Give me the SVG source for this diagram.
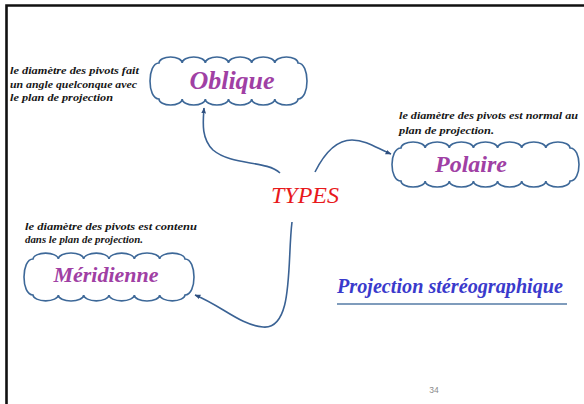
<svg xmlns="http://www.w3.org/2000/svg" width="584" height="404" viewBox="0 0 584 404">
<defs>
<style>
.cloud{fill:#fff;stroke:#3d6898;stroke-width:1.6}
.conn{fill:none;stroke:#3a6294;stroke-width:1.6}
.serif{font-family:"Liberation Serif","Times New Roman",serif}
.desc{font-weight:bold;font-style:italic;font-size:10.5px;fill:#161616}
.name{font-weight:bold;font-style:italic;fill:#a040a4}
</style>
<marker id="arr" viewBox="0 0 10 10" refX="9" refY="5" markerWidth="6" markerHeight="6" orient="auto" markerUnits="userSpaceOnUse">
<path d="M0,1 L10,5 L0,9 Z" fill="#2f4f7f"/>
</marker>
</defs>
<rect width="584" height="404" fill="#fff"/>
<path d="M6.5,404 V5.5 H584" fill="none" stroke="#111" stroke-width="2.6"/>

<g id="connectors">
<path class="conn" marker-end="url(#arr)" d="M280,173 C266,160 232,166 213,150 C201,138 203,122 204,108"/>
<path class="conn" marker-end="url(#arr)" d="M315,172 C325,152 338,140 352,140 C367,140 378,149 391,154"/>
<path class="conn" marker-end="url(#arr)" d="M292,222 C287,262 294,330 263,327 C240,325 222,306 195,295"/>
</g>

<g id="oblique">
<path class="cloud" d="M159,63 A11.58,6 0 0 1 182.17,63 A11.58,6 0 0 1 205.33,63 A11.58,6 0 0 1 228.5,63 A11.58,6 0 0 1 251.67,63 A11.58,6 0 0 1 274.83,63 A11.58,6 0 0 1 298,63 C310,63 310,99 298,99 A11.58,6 0 0 1 274.83,99 A11.58,6 0 0 1 251.67,99 A11.58,6 0 0 1 228.5,99 A11.58,6 0 0 1 205.33,99 A11.58,6 0 0 1 182.17,99 A11.58,6 0 0 1 159,99 C147,99 147,63 159,63 Z"/>
<text class="serif name" x="232" y="89" font-size="26" text-anchor="middle">Oblique</text>
</g>

<g id="polaire">
<path class="cloud" d="M401,148 A12.07,6 0 0 1 425.14,148 A12.07,6 0 0 1 449.29,148 A12.07,6 0 0 1 473.43,148 A12.07,6 0 0 1 497.57,148 A12.07,6 0 0 1 521.71,148 A12.07,6 0 0 1 545.86,148 A12.07,6 0 0 1 570,148 C582,148 582,181 570,181 A12.07,6 0 0 1 545.86,181 A12.07,6 0 0 1 521.71,181 A12.07,6 0 0 1 497.57,181 A12.07,6 0 0 1 473.43,181 A12.07,6 0 0 1 449.29,181 A12.07,6 0 0 1 425.14,181 A12.07,6 0 0 1 401,181 C389,181 389,148 401,148 Z"/>
<text class="serif name" x="471" y="172" font-size="24" text-anchor="middle">Polaire</text>
</g>

<g id="meridienne">
<path class="cloud" d="M33,259 A12.67,6 0 0 1 58.33,259 A12.67,6 0 0 1 83.67,259 A12.67,6 0 0 1 109,259 A12.67,6 0 0 1 134.33,259 A12.67,6 0 0 1 159.67,259 A12.67,6 0 0 1 185,259 C197,259 197,295 185,295 A12.67,6 0 0 1 159.67,295 A12.67,6 0 0 1 134.33,295 A12.67,6 0 0 1 109,295 A12.67,6 0 0 1 83.67,295 A12.67,6 0 0 1 58.33,295 A12.67,6 0 0 1 33,295 C21,295 21,259 33,259 Z"/>
<text class="serif name" x="106" y="282" font-size="22" font-weight="normal" text-anchor="middle">Méridienne</text>
</g>

<g id="types">
<text class="serif" x="305" y="203" font-style="italic" font-size="24" fill="#e8191c" text-anchor="middle">TYPES</text>
</g>

<g id="desc-oblique">
<text class="serif desc" x="10" y="74" textLength="129" lengthAdjust="spacingAndGlyphs">le diamètre des pivots fait</text>
<text class="serif desc" x="10" y="87.5" textLength="127" lengthAdjust="spacingAndGlyphs">un angle quelconque avec</text>
<text class="serif desc" x="10" y="100.5" textLength="103" lengthAdjust="spacingAndGlyphs">le plan de projection</text>
</g>

<g id="desc-polaire">
<text class="serif desc" x="399" y="119" textLength="179" lengthAdjust="spacingAndGlyphs">le diamètre des pivots est normal au</text>
<text class="serif desc" x="399" y="133.5" textLength="95" lengthAdjust="spacingAndGlyphs">plan de projection.</text>
</g>

<g id="desc-meridienne">
<text class="serif desc" x="25" y="229.5" textLength="172" lengthAdjust="spacingAndGlyphs">le diamètre des pivots est contenu</text>
<text class="serif desc" x="25" y="243" textLength="118" lengthAdjust="spacingAndGlyphs">dans le plan de projection.</text>
</g>

<g id="title">
<text class="serif" x="337" y="293" font-weight="bold" font-style="italic" font-size="20" fill="#3a3acc" textLength="226" lengthAdjust="spacingAndGlyphs">Projection stéréographique</text>
<line x1="337" y1="304" x2="567" y2="304" stroke="#7f9cbc" stroke-width="2"/>
</g>

<text x="434" y="393" font-family="Liberation Sans, sans-serif" font-size="8.5" fill="#8a8a8a" text-anchor="middle">34</text>
</svg>
